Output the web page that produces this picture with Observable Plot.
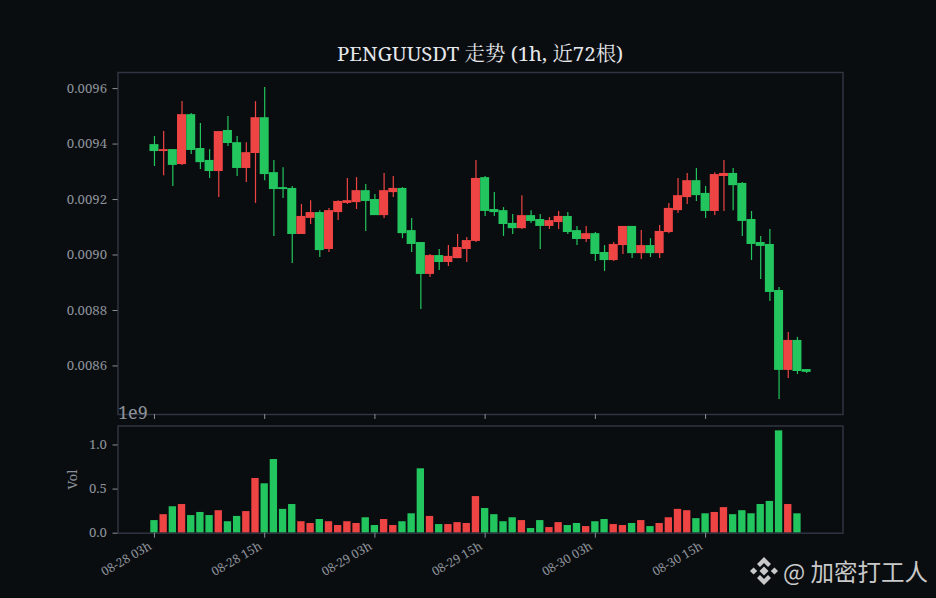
<!DOCTYPE html>
<html lang="zh">
<head>
<meta charset="utf-8">
<script src="https://cdn.jsdelivr.net/npm/d3@7"></script>
<script src="https://cdn.jsdelivr.net/npm/@observablehq/plot@0.6"></script>
<style>
html,body{margin:0;padding:0;background:#0a0d10;width:936px;height:598px;overflow:hidden}
#chart{position:relative;width:936px;height:598px}
#chart > svg{position:absolute;left:0;background:transparent}
#chart > svg text{font-family:"Noto Serif","Noto Serif CJK SC","Liberation Serif","Noto Sans CJK SC",serif}
#title{position:absolute;left:117.5px;width:725px;top:39px;text-align:center;color:#e5e7eb;font:20.4px "Noto Serif","Noto Serif CJK SC","Liberation Serif","Noto Sans CJK SC",serif;line-height:28px}
#mark{position:absolute;left:750px;top:556px;display:flex;align-items:center;color:#c9c9c9;font:23.5px "Noto Sans CJK SC",sans-serif;line-height:30px;white-space:nowrap;z-index:3}
#mark svg{width:28px;height:28px;margin-right:5px}
</style>
</head>
<body>
<div id="chart">
<div id="title">PENGUUSDT 走势 (1h, 近72根)</div>
<div id="mark"><svg viewBox="0 0 28 28"><g fill="#c9c9c9"><path d="M14 0 21 7 18 10 14 6 10 10 7 7Z"/><path d="M14 28 7 21 10 18 14 22 18 18 21 21Z"/><path d="M3.6 10.4 7.2 14 3.6 17.6 0 14Z"/><path d="M24.4 10.4 28 14 24.4 17.6 20.8 14Z"/><path d="M14 9.5 18.5 14 14 18.5 9.5 14Z"/></g></svg><span>@ 加密打工人</span></div>
</div>
<script>
// Prices in millionths (value = n * 1e-6), one entry per hourly candle
const openE6 = [9398,9373,9380,9326,9506,9384,9341,9301,9449,9405,9312,9366,9495,9297,9243,9240,9074,9132,9153,9020,9153,9186,9189,9232,9200,9142,9225,9240,9088,9045,8930,8998,8973,8987,9020,9049,9279,9164,9160,9114,9095,9142,9128,9103,9117,9139,9088,9056,9077,9009,8980,9034,9103,9005,9034,9005,9081,9160,9207,9268,9222,9157,9283,9294,9258,9128,9045,9038,8872,8584,8692,8587];
const highE6 = [9427,9445,9380,9553,9510,9474,9380,9445,9499,9427,9405,9553,9604,9341,9315,9247,9182,9196,9160,9168,9196,9276,9279,9254,9218,9294,9283,9243,9132,9045,9002,9020,9034,9074,9063,9341,9283,9225,9171,9146,9214,9160,9146,9135,9157,9153,9103,9103,9081,9034,9045,9103,9103,9088,9059,9106,9186,9276,9294,9312,9247,9297,9341,9312,9261,9157,9067,9092,8883,8721,8703,8587];
const lowE6 = [9319,9286,9247,9323,9362,9308,9276,9207,9391,9283,9261,9186,9268,9067,9204,8969,9074,9110,8991,9009,9124,9182,9164,9085,9142,9132,9207,9059,9009,8804,8919,8944,8959,8987,8973,9045,9139,9139,9067,9074,9092,9114,9020,9092,9092,9074,9034,9045,8977,8941,8977,9002,8987,8984,8991,8987,9077,9150,9182,9193,9132,9142,9157,9160,9067,8980,8912,8832,8479,8555,8569,8573];
const closeE6 = [9373,9380,9323,9506,9377,9333,9301,9445,9402,9312,9369,9495,9290,9236,9236,9074,9139,9153,9016,9160,9193,9196,9232,9193,9142,9232,9240,9077,9038,8930,8998,8973,8995,9027,9052,9276,9157,9153,9110,9095,9142,9121,9103,9124,9139,9081,9056,9077,9002,8980,9038,9103,9005,9034,9005,9085,9168,9214,9268,9214,9157,9290,9294,9250,9121,9038,9031,8865,8584,8692,8580,8577];
// Volume in units of 1e9
const volume = [0.143,0.21,0.30,0.325,0.20,0.235,0.20,0.255,0.13,0.19,0.245,0.62,0.56,0.835,0.27,0.325,0.13,0.11,0.155,0.13,0.087,0.13,0.11,0.175,0.087,0.155,0.087,0.13,0.22,0.73,0.19,0.098,0.098,0.12,0.11,0.415,0.28,0.21,0.13,0.175,0.143,0.053,0.143,0.064,0.12,0.087,0.11,0.075,0.13,0.155,0.098,0.087,0.11,0.143,0.075,0.11,0.175,0.27,0.255,0.165,0.22,0.235,0.29,0.21,0.255,0.22,0.325,0.36,1.16,0.325,0.22,0];
const tickIndex = [0,12,24,36,48,60];
const tickLabels = ["08-28 03h","08-28 15h","08-29 03h","08-29 15h","08-30 03h","08-30 15h"];
const priceTicks = [0.0086,0.0088,0.0090,0.0092,0.0094,0.0096];
const volTicks = [0,0.5,1];

const UP = "#ef4444", DOWN = "#22c55e", FRAME = "#2f3541", TICK = "#8a8f98", LABEL = "#8d929a";
const rows = openE6.map((o,i)=>({i,open:o*1e-6,high:highE6[i]*1e-6,low:lowE6[i]*1e-6,close:closeE6[i]*1e-6,vol:volume[i],color:closeE6[i]>=o?UP:DOWN}));
const xDomain = [-3.97,74.96];
const style = {background:"transparent"};

const main = Plot.plot({
  width:936,height:425,marginLeft:117.5,marginRight:93.5,marginTop:72,marginBottom:11,style,
  x:{domain:xDomain},
  y:{domain:[0.008425,0.009658]},
  marks:[
    Plot.ruleX(rows,{x:"i",y1:"low",y2:"high",stroke:"color",strokeWidth:1.2}),
    Plot.rect(rows,{x1:d=>d.i-0.49,x2:d=>d.i+0.49,y1:"open",y2:"close",fill:"color"}),
    Plot.frame({stroke:FRAME,strokeWidth:1.5}),
    Plot.axisY({ticks:priceTicks,tickFormat:d3.format(".4f"),tickSize:5,tickPadding:6,stroke:TICK,fill:LABEL,fontSize:13.2,label:null}),
    Plot.axisX({ticks:tickIndex,tickFormat:()=>"",tickSize:5,stroke:TICK,label:null})
  ]
});
main.style.top="0px";

const vol = Plot.plot({
  width:936,height:198,marginLeft:117.5,marginRight:93.5,marginTop:25.5,marginBottom:65.3,style,
  x:{domain:xDomain},
  y:{domain:[0,1.215]},
  marks:[
    Plot.rectY(rows.filter(d=>d.vol>0),{x1:d=>d.i-0.4,x2:d=>d.i+0.4,y1:0,y2:"vol",fill:"color"}),
    Plot.frame({stroke:FRAME,strokeWidth:1.5}),
    Plot.axisY({ticks:volTicks,tickFormat:d3.format(".1f"),tickSize:5,tickPadding:6,stroke:TICK,fill:LABEL,fontSize:13.2,label:"Vol",labelAnchor:"center",labelArrow:"none",labelOffset:50}),
    Plot.axisX({ticks:tickIndex,tickFormat:()=>"",tickSize:5,stroke:TICK,label:null}),
    Plot.axisX({ticks:tickIndex,tickFormat:d=>tickLabels[tickIndex.indexOf(d)],tickSize:0,tickPadding:12,tickRotate:-30,dx:-4,fill:LABEL,fontSize:12.2,label:null}),
    Plot.text(["1e9"],{frameAnchor:"top-left",dx:0,dy:-20,text:d=>d,fill:LABEL,fontSize:18,lineAnchor:"top",textAnchor:"start"})
  ]
});
vol.style.top="400px";
document.getElementById("chart").append(main,vol);
</script>
</body>
</html>
